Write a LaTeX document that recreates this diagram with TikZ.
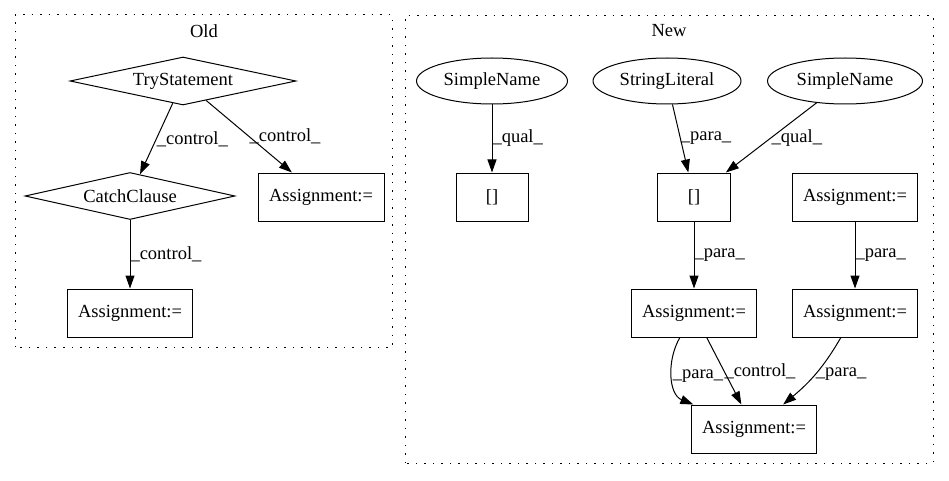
\documentclass[tikz,border=0pt]{standalone}
\usepackage{fontspec}
\setmainfont{Liberation Serif}
\usetikzlibrary{arrows.meta,shapes.geometric}
\tikzset{
  rom/.style={diamond,draw,aspect=4.7,inner sep=0pt,minimum width=226pt,minimum height=48pt},
  ell/.style={ellipse,draw,inner sep=0pt,minimum height=46pt},
  dob/.style={rectangle,draw,inner sep=0pt,minimum width=125pt,minimum height=48pt},
  nyil/.style={-{Triangle[length=13pt,width=9pt]}},
  cimke/.style={anchor=west,inner sep=0pt,pos=0.5},
  klaszter/.style={dash pattern=on 1.5pt off 7pt},
}
\begin{document}
\begin{tikzpicture}[x=1pt,y=1pt,line width=1pt,font=\fontsize{18.5}{21}\selectfont]
  \useasboundingbox (0,0) rectangle (949,480);
  \draw[klaszter] (15,133) rectangle (392,465);
  \node (old) at (204,449) {Old};
  \draw[klaszter] (405,17) rectangle (933,464);
  \node (new) at (669,449) {New};

  \node[rom] (try) at (183,399) {TryStatement};
  \node[rom,minimum width=210pt,minimum height=47pt] (catch) at (130,284) {CatchClause};
  \node[dob,minimum width=126pt] (asgA) at (321,283) {Assignment:=};
  \node[dob] (asgB) at (130,167) {Assignment:=};

  \node[ell,minimum width=151pt] (sn1) at (492,399) {SimpleName};
  \node[ell,minimum width=148pt] (lit) at (667,399) {StringLiteral};
  \node[ell,minimum width=155pt] (sn2) at (845,399) {SimpleName};
  \node[dob,minimum width=72pt] (idx1) at (492,283) {[]};
  \node[dob,minimum width=73pt] (idx2) at (694,283) {[]};
  \node[dob] (asgC) at (855,283) {Assignment:=};
  \node[dob] (asgD) at (694,167) {Assignment:=};
  \node[dob] (asgE) at (855,167) {Assignment:=};
  \node[dob] (asgF) at (754,51) {Assignment:=};

  \draw[nyil] (try) -- node[cimke] {\_control\_} (catch);
  \draw[nyil] (try) -- node[cimke] {\_control\_} (asgA);
  \draw[nyil] (catch) -- node[cimke] {\_control\_} (asgB);
  \draw[nyil] (sn1) -- node[cimke] {\_qual\_} (idx1);
  \draw[nyil] (lit) -- node[cimke] {\_para\_} (idx2);
  \draw[nyil] (sn2) -- node[cimke] {\_qual\_} (idx2);
  \draw[nyil] (idx2) -- node[cimke] {\_para\_} (asgD);
  \draw[nyil] (asgC) -- node[cimke] {\_para\_} (asgE);
  \draw[nyil] (asgD) to[out=-120,in=158] node[cimke] {\_para\_} (asgF);
  \draw[nyil] (asgD) -- node[cimke] {\_control\_} (asgF);
  \draw[nyil] (asgE) to[out=-120,in=40] node[cimke] {\_para\_} (asgF);
\end{tikzpicture}
\end{document}
